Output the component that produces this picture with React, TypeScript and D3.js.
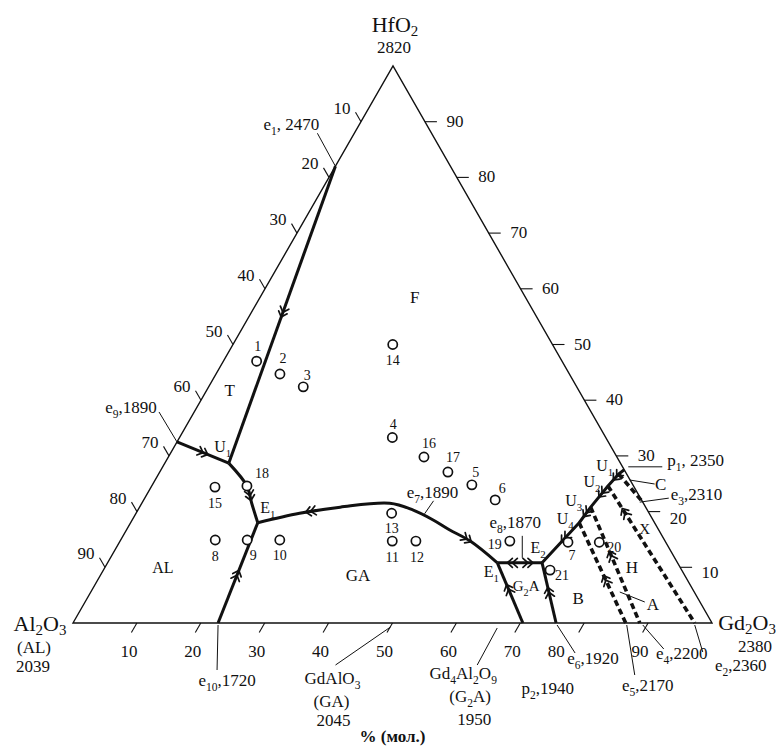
import React, { useEffect, useRef } from "react";
import * as d3 from "d3";

// composition in mol %: [Gd2O3, HfO2]; Al2O3 is the rest
type Comp = [number, number];

const tickValues = [10, 20, 30, 40, 50, 60, 70, 80, 90];

// invariant points
const e1: Comp = [0, 82];
const e9: Comp = [0, 32.5];
const U1a: Comp = [10, 28.7];
const E1a: Comp = [19.9, 18];
const e10: Comp = [22.7, 0];
const e7: Comp = [45.2, 19.6];
const E1b: Comp = [61, 10.8];
const e8: Comp = [64.9, 10.8];
const E2: Comp = [68, 10.8];
const p2: Comp = [70.4, 0];
const e6: Comp = [75.6, 0];
const U4: Comp = [70.2, 18];
const U3: Comp = [70.6, 20.8];
const U2: Comp = [71.4, 24.6];
const U1b: Comp = [72, 26.75];
const p1: Comp = [72.5, 27.5];
const e3: Comp = [78.3, 21.7];
const e5: Comp = [86.5, 0];
const e4: Comp = [88.7, 0];
const e2: Comp = [97.3, 0];
const GA: Comp = [50, 0];
const G2A: Comp = [66.7, 0];

const domeGA: Comp[] = [
  E1a, [25.6, 19.7], [31.4, 20.8], [38.8, 21.5], [43, 20.3],
  [47.1, 18.5], [50.6, 16.7], [54.8, 14.7], E1b,
];

const solidLines: { name: string; pts: Comp[]; smooth?: boolean }[] = [
  { name: "e1-U1", pts: [e1, U1a] },
  { name: "e9-U1", pts: [e9, U1a] },
  { name: "U1-E1", pts: [U1a, [14.9, 24.6], [17.2, 21.5], E1a], smooth: true },
  { name: "E1-e10", pts: [E1a, e10] },
  { name: "e7", pts: domeGA, smooth: true },
  { name: "E1-E2", pts: [E1b, E2] },
  { name: "E1-p2", pts: [E1b, p2] },
  { name: "E2-e6", pts: [E2, e6] },
  { name: "E2-p1", pts: [E2, U4, U3, U2, U1b, p1] },
];

const dashedLines: { name: string; pts: Comp[] }[] = [
  { name: "U1-e3", pts: [U1b, e3] },
  { name: "U2-e2", pts: [U2, e2] },
  { name: "U3-e4", pts: [U3, e4] },
  { name: "U4-e5", pts: [U4, e5] },
];

// [line, fraction along it, +1 forward / -1 backward]
const arrows: [string, number, number][] = [
  ["e1-U1", 0.5, 1], ["e9-U1", 0.55, 1], ["U1-E1", 0.62, 1], ["E1-e10", 0.5, -1],
  ["e7", 0.2, -1], ["e7", 0.86, 1], ["E1-E2", 0.28, -1], ["E1-E2", 0.74, 1],
  ["E1-p2", 0.4, -1], ["E2-e6", 0.45, -1],
  ["E2-p1", 0.25, -1], ["E2-p1", 0.52, -1], ["E2-p1", 0.72, -1], ["E2-p1", 0.9, -1],
  ["U2-e2", 0.18, -1], ["U3-e4", 0.4, -1], ["U4-e5", 0.55, -1],
];

const samples = [
  { id: "1", gd: 5.2, hf: 47 },
  { id: "2", gd: 10, hf: 44.7 },
  { id: "3", gd: 14.8, hf: 42.4 },
  { id: "4", gd: 33.3, hf: 33.3 },
  { id: "5", gd: 50, hf: 24.8 },
  { id: "6", gd: 55, hf: 22.1 },
  { id: "7", gd: 70.2, hf: 14.5 },
  { id: "8", gd: 14.8, hf: 14.9 },
  { id: "9", gd: 19.8, hf: 14.9 },
  { id: "10", gd: 24.9, hf: 14.9 },
  { id: "11", gd: 42.6, hf: 14.7 },
  { id: "12", gd: 46.3, hf: 14.7 },
  { id: "13", gd: 40, hf: 19.7 },
  { id: "14", gd: 25, hf: 50 },
  { id: "15", gd: 10, hf: 24.4 },
  { id: "16", gd: 40, hf: 29.8 },
  { id: "17", gd: 45.1, hf: 27.1 },
  { id: "18", gd: 14.9, hf: 24.6 },
  { id: "19", gd: 61, hf: 14.7 },
  { id: "20", gd: 75.1, hf: 14.5 },
  { id: "21", gd: 69.9, hf: 9.5 },
];

// where each sample number sits relative to its circle (px)
const sampleLabelPos: Record<string, [number, number]> = {
  "1": [1, -10], "2": [3, -11], "3": [4, -7], "4": [1, -9], "5": [4, -8], "6": [7, -7],
  "7": [4, 18], "8": [0, 21], "9": [6, 20], "10": [0, 20], "11": [0, 21], "12": [1, 21],
  "13": [0, 20], "14": [0, 20], "15": [0, 21], "16": [5, -9], "17": [5, -10],
  "18": [15, -8], "19": [-15, 8], "20": [15, 10], "21": [12, 10],
};

const regionLabels = [
  { text: "F", gd: 24.2, hf: 58.5, size: 17 },
  { text: "T", gd: 3.6, hf: 41.8, size: 17 },
  { text: "AL", gd: 9, hf: 10.1, size: 16 },
  { text: "GA", gd: 40.3, hf: 8.6, size: 17 },
  { text: "G_{2}A", gd: 67.5, hf: 6.8, size: 15 },
  { text: "B", gd: 76.8, hf: 4.5, size: 17 },
  { text: "H", gd: 82.4, hf: 10.1, size: 17 },
  { text: "X", gd: 80.9, hf: 17.1, size: 15 },
];

const nodeLabels: { text: string; at: Comp; off: [number, number] }[] = [
  { text: "U_{1}", at: U1a, off: [-6, -11] },
  { text: "E_{1}", at: E1a, off: [10, -10] },
  { text: "E_{1}", at: E1b, off: [-6, 14] },
  { text: "E_{2}", at: E2, off: [-4, -10] },
  { text: "U_{1}", at: U1b, off: [-14, -3] },
  { text: "U_{2}", at: U2, off: [-16, 1] },
  { text: "U_{3}", at: U3, off: [-17, -1] },
  { text: "U_{4}", at: U4, off: [-14, 1] },
];

const notes: {
  lines: string[]; at: Comp; label: [number, number];
  leader?: [number, number, number, number]; anchor?: string; rows?: [number, number][];
}[] = [
  { lines: ["e_{1}, 2470"], at: e1, label: [-44, -36], leader: [0, 0, -18, -33] },
  { lines: ["e_{9},1890"], at: e9, label: [-46, -29], leader: [0, 0, -18, -30] },
  { lines: ["e_{10},1720"], at: e10, label: [9, 63], leader: [0, 2, -1, 47] },
  { lines: ["e_{7},1890"], at: e7, label: [8, -16], leader: [0, 0, 9, -13] },
  { lines: ["e_{8},1870"], at: e8, label: [-7, -35], leader: [0, -5, 0, -27] },
  { lines: ["p_{2},1940"], at: p2, label: [25, 71] },
  { lines: ["e_{6},1920"], at: e6, label: [37, 41], leader: [1, 2, 19, 30] },
  { lines: ["e_{5},2170"], at: e5, label: [22, 68], leader: [1, 2, 9, 52] },
  { lines: ["e_{4},2200"], at: e4, label: [42, 36], leader: [3, 2, 24, 26] },
  { lines: ["e_{2},2360"], at: e2, label: [46, 48], leader: [0, 2, 8, 29] },
  { lines: ["p_{1}, 2350"], at: p1, label: [43, -4], leader: [4, -3, 38, -3], anchor: "start" },
  { lines: ["e_{3},2310"], at: e3, label: [28, -2], leader: [-3, 0, 26, -4], anchor: "start" },
  { lines: ["C"], at: U1b, label: [42, 16], leader: [11, 6, 36, 10] },
  { lines: ["A"], at: e4, label: [13, -13], leader: [-20, -31, 5, -21] },
  { lines: ["GdAlO_{3}", "(GA)", "2045"], at: GA, label: [-60, 61], leader: [-2, 4, -57, 42],
    rows: [[0, 0], [-1, 23], [1, 42]] },
  { lines: ["Gd_{4}Al_{2}O_{9}", "(G_{2}A)", "1950"], at: G2A, label: [-36, 56], leader: [-2, 5, -22, 42],
    rows: [[0, 0], [7, 23], [11, 46]] },
];

// bottom tick labels sit a little left of their ticks; 80 is pushed aside by a leader
const bottomLabelShift: Record<number, number> = { 80: -20 };
// right-side labels drop a little lower near the base
const rightLabelDrop: Record<number, number> = { 10: 11, 20: 12 };

const vertexLabels: { lines: string[]; at: Comp; off: [number, number][] }[] = [
  { lines: ["Al_{2}O_{3}", "(AL)", "2039"], at: [0, 0], off: [[-33, 8], [-39, 30], [-40, 49]] },
  { lines: ["HfO_{2}", "2820"], at: [0, 100], off: [[2, -34], [1, -13]] },
  { lines: ["Gd_{2}O_{3}", "2380"], at: [100, 0], off: [[35, 7], [43, 29]] },
];

const FONT = '"Liberation Serif", "Times New Roman", serif';

const gScale = d3.scaleLinear().domain([0, 100]).range([73, 712]);
const hY = d3.scaleLinear().domain([0, 100]).range([623, 66]);
const hX = d3.scaleLinear().domain([0, 100]).range([0, 320]);
const proj = ([g, h]: Comp): [number, number] => [gScale(g) + hX(h), hY(h)];

function richText(sel: any, str: string, x: number, y: number, size: number, anchor = "middle", weight = "normal", drop = 0.3) {
  const t = sel.append("text").attr("x", x).attr("y", y).attr("font-size", size)
    .attr("text-anchor", anchor).attr("font-weight", weight).attr("fill", "#111");
  const shift = size * drop;
  let low = false;
  str.split(/(_\{[^}]*\})/).forEach((part) => {
    if (!part) return;
    if (part.startsWith("_{")) {
      t.append("tspan").attr("font-size", size * 0.68).attr("dy", low ? 0 : shift).text(part.slice(2, -1));
      low = true;
    } else {
      t.append("tspan").attr("dy", low ? -shift : 0).text(part);
      low = false;
    }
  });
  return t;
}

const TernaryChart = () => {
  const svgRef = useRef<SVGSVGElement>(null);

  useEffect(() => {
    const svg = d3.select(svgRef.current);
    svg.selectAll("*").remove();
    const root = svg.append("g").attr("font-family", FONT);

    // frame
    const corners: Comp[] = [[0, 0], [0, 100], [100, 0]];
    root.append("path")
      .attr("d", d3.line()(corners.map(proj)) + "Z")
      .attr("fill", "none").attr("stroke", "#111").attr("stroke-width", 1.4);

    // ticks
    const tk = root.append("g").attr("stroke", "#111").attr("stroke-width", 1.1);
    tickValues.forEach((v) => {
      const [bx, by] = proj([v, 0]);
      tk.append("line").attr("x1", bx).attr("y1", by).attr("x2", bx - 5.5).attr("y2", by + 9.5);
      richText(root, String(v), bx - 8 + (bottomLabelShift[v] || 0), by + 34, 17);
      const [lx, ly] = proj([0, 100 - v]);
      tk.append("line").attr("x1", lx).attr("y1", ly).attr("x2", lx - 5.5).attr("y2", ly - 9.5);
      richText(root, String(v), lx - 19, ly - 8, 17);
      const [rx, ry] = proj([100 - v, v]);
      tk.append("line").attr("x1", rx).attr("y1", ry).attr("x2", rx + 12).attr("y2", ry);
      richText(root, String(v), rx + 30, ry + (rightLabelDrop[v] || 5), 17);
    });

    // leader lines
    const ld = root.append("g").attr("stroke", "#111").attr("stroke-width", 1);
    notes.forEach((n) => {
      if (!n.leader) return;
      const [x, y] = proj(n.at);
      ld.append("line").attr("x1", x + n.leader[0]).attr("y1", y + n.leader[1])
        .attr("x2", x + n.leader[2]).attr("y2", y + n.leader[3]);
    });

    const paths: Record<string, SVGPathElement> = {};
    const straight = d3.line();
    const smooth = d3.line().curve(d3.curveCatmullRom.alpha(0.5));

    dashedLines.forEach((l) => {
      const p = root.append("path").attr("d", straight(l.pts.map(proj)))
        .attr("fill", "none").attr("stroke", "#111").attr("stroke-width", 3.6)
        .attr("stroke-dasharray", "6 3.5");
      paths[l.name] = p.node() as SVGPathElement;
    });

    solidLines.forEach((l) => {
      const p = root.append("path").attr("d", (l.smooth ? smooth : straight)(l.pts.map(proj)))
        .attr("fill", "none").attr("stroke", "#111").attr("stroke-width", 3)
        .attr("stroke-linejoin", "round");
      paths[l.name] = p.node() as SVGPathElement;
    });

    // direction marks
    const ar = root.append("g").attr("fill", "none").attr("stroke", "#111")
      .attr("stroke-width", 1.7).attr("stroke-linecap", "round");
    arrows.forEach(([name, t, dir]) => {
      const node = paths[name];
      const len = node.getTotalLength();
      const s = len * t;
      const p = node.getPointAtLength(s);
      const a = node.getPointAtLength(Math.max(0, s - 1));
      const b = node.getPointAtLength(Math.min(len, s + 1));
      let ux = b.x - a.x, uy = b.y - a.y;
      const m = Math.hypot(ux, uy) || 1;
      ux = (ux / m) * dir; uy = (uy / m) * dir;
      const nx = -uy, ny = ux;
      [2.5, -2.5].forEach((k) => {
        const tx = p.x + ux * k, ty = p.y + uy * k;
        ar.append("path").attr("d",
          `M${tx - ux * 5 + nx * 4.5},${ty - uy * 5 + ny * 4.5}L${tx},${ty}L${tx - ux * 5 - nx * 4.5},${ty - uy * 5 - ny * 4.5}`);
      });
    });

    // sample compositions
    samples.forEach((d) => {
      const [x, y] = proj([d.gd, d.hf]);
      root.append("circle").attr("cx", x).attr("cy", y).attr("r", 4.6)
        .attr("fill", "#fff").attr("stroke", "#111").attr("stroke-width", 1.7);
      const [dx, dy] = sampleLabelPos[d.id];
      richText(root, d.id, x + dx, y + dy, 14);
    });

    regionLabels.forEach((r) => {
      const [x, y] = proj([r.gd, r.hf]);
      richText(root, r.text, x, y + 6, r.size);
    });

    nodeLabels.forEach((n) => {
      const [x, y] = proj(n.at);
      richText(root, n.text, x + n.off[0], y + n.off[1], 16);
    });

    notes.forEach((n) => {
      const [x, y] = proj(n.at);
      n.lines.forEach((line, i) => {
        const [rx, ry] = n.rows ? n.rows[i] : [0, 0];
        richText(root, line, x + n.label[0] + rx, y + n.label[1] + ry, 17, n.anchor || "middle");
      });
    });

    vertexLabels.forEach((v) => {
      const [x, y] = proj(v.at);
      v.lines.forEach((line, i) => {
        richText(root, line, x + v.off[i][0], y + v.off[i][1], i === 0 ? 22 : 17, "middle", "normal", 0.2);
      });
    });

    richText(root, "% (мол.)", gScale(50), 742, 17, "middle", "bold");
  }, []);

  return (
    <svg ref={svgRef} width={777} height={749}
      style={{ position: "absolute", left: 0, top: 0, display: "block", background: "#fff" }} />
  );
};

export default function App() {
  return <TernaryChart />;
}
